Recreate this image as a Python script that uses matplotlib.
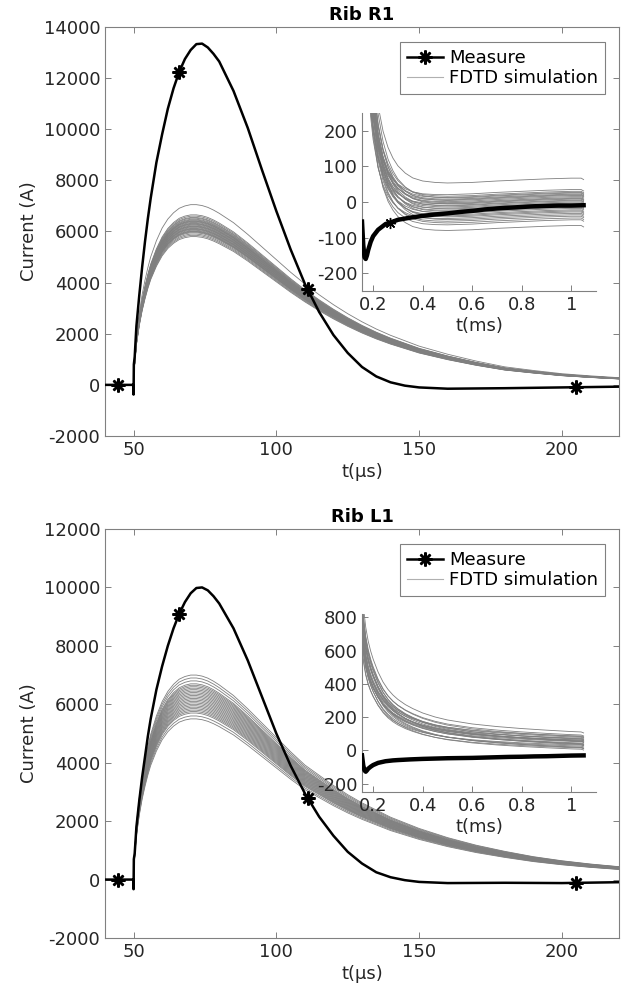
import numpy as np
import matplotlib
matplotlib.use("Agg")
import matplotlib.pyplot as plt
from matplotlib.lines import Line2D

plt.rcParams["font.family"] = ["DejaVu Sans"]
plt.rcParams["font.size"] = 13
plt.rcParams["axes.unicode_minus"] = False

AX_COLOR = "#808080"
TXT_COLOR = "#262626"
SIM_COLOR = "#7f7f7f"
ASTERISK = (8, 2, 0)

# ---- main curves (t in us, current in A) ----
T_MEAS = [40, 49.9, 50.0, 50.1, 50.4, 51, 52, 53, 54, 55, 56, 58, 60, 62, 64, 66, 68,
          70, 72, 74, 76, 78, 80, 85, 90, 95, 100, 105, 110, 115, 120, 125, 130,
          135, 140, 145, 150, 160, 180, 200, 220]
R1_MEAS = [0, 0, -380, 800, 1100, 2300, 3500, 4600, 5600, 6500, 7300, 8700, 9800, 10800,
           11600, 12250, 12750, 13100, 13330, 13350, 13200, 12950, 12650, 11500, 10050,
           8400, 6800, 5300, 3950, 2850, 1950, 1250, 700, 330, 100, -30, -100, -150,
           -130, -100, -70]
L1_MEAS = [0, 0, -330, 700, 900, 1800, 2700, 3500, 4200, 4900, 5500, 6500, 7300, 8000,
           8600, 9100, 9500, 9800, 9980, 10000, 9900, 9700, 9450, 8600, 7500, 6250,
           5000, 3900, 2950, 2150, 1500, 950, 550, 250, 80, -20, -80, -120, -110,
           -120, -90]

MARK_T = [44.5, 66, 111, 205]
R1_MARK = [0, 12250, 3750, -95]
L1_MARK = [0, 9100, 2800, -110]

T_SIM = [40, 49.9, 50.0, 50.3, 51, 52, 53, 54, 55, 56, 58, 60, 62, 64, 66, 68, 70, 72,
         74, 76, 78, 80, 85, 90, 95, 100, 105, 110, 115, 120, 125, 130, 135, 140,
         150, 160, 170, 180, 190, 200, 210, 220]
R1_SHAPE = [0, 0, 0, 0.12, 0.27, 0.40, 0.50, 0.58, 0.65, 0.71, 0.80, 0.87, 0.92, 0.955,
            0.98, 0.993, 1.0, 1.0, 0.995, 0.985, 0.97, 0.952, 0.90, 0.835, 0.765, 0.695,
            0.625, 0.56, 0.50, 0.445, 0.395, 0.35, 0.31, 0.275, 0.215, 0.17, 0.132,
            0.10, 0.08, 0.062, 0.05, 0.04]
L1_SHAPE = [0, 0, 0, 0.12, 0.27, 0.40, 0.50, 0.58, 0.65, 0.71, 0.80, 0.87, 0.92, 0.955,
            0.98, 0.993, 1.0, 1.0, 0.995, 0.985, 0.97, 0.952, 0.90, 0.835, 0.765, 0.695,
            0.625, 0.56, 0.51, 0.46, 0.415, 0.375, 0.34, 0.305, 0.25, 0.205, 0.168,
            0.138, 0.112, 0.092, 0.076, 0.063]
R1_PEAKS = [7050, 6650, 6600, 6550, 6520, 6480, 6450, 6420, 6400, 6380, 6350, 6320,
            6300, 6280, 6250, 6220, 6200, 6180, 6150, 6120, 6100, 6080, 6050, 6020,
            6000, 5980, 5950, 5900, 5850, 5800]
L1_PEAKS = [7000, 6900, 6800, 6700, 6650, 6600, 6550, 6500, 6450, 6400, 6350, 6300,
            6250, 6200, 6150, 6100, 6050, 6000, 5950, 5900, 5850, 5800, 5750, 5700,
            5600, 5500]

# ---- insets (t in ms) ----
T_IN = [0.155, 0.16, 0.165, 0.17, 0.175, 0.18, 0.19, 0.2, 0.22, 0.25, 0.28, 0.3, 0.35,
        0.4, 0.45, 0.5, 0.55, 0.6, 0.65, 0.7, 0.75, 0.8, 0.85, 0.9, 0.95, 1.0, 1.05]
R1_IN_MEAS = [-55, -120, -155, -160, -150, -135, -112, -96, -78, -62, -55, -50, -44,
              -39, -35, -32, -28, -25, -21, -18, -16, -14, -12, -11, -10, -10, -9]
L1_IN_MEAS = [-30, -90, -120, -128, -120, -110, -98, -88, -75, -65, -60, -58, -54, -51,
              -49, -47, -46, -45, -43, -41, -39, -38, -36, -35, -33, -31, -30]
R1_IN_MARK_T = [0.27]
R1_IN_MARK = [-60]

T_IN_SIM = [0.155, 0.16, 0.17, 0.18, 0.19, 0.2, 0.22, 0.24, 0.26, 0.28, 0.3, 0.33, 0.36,
            0.4, 0.45, 0.5, 0.6, 0.7, 0.8, 0.9, 1.0, 1.04, 1.05]
R1_IN_BASE = [1100, 900, 650, 480, 370, 290, 190, 130, 92, 66, 48, 30, 18, 10, 5, 2, 0,
              0, 0, 0, 0, 0, 0]
R1_IN_DRIFT = [-25, -25, -25, -25, -25, -25, -24, -24, -24, -23, -23, -22, -21, -20,
               -18, -16, -12, -8, -5, -2, 0, 0, -4]
R1_IN_OFFSETS = [67, 35, 30, 27, 25, 22, 20, 18, 15, 12, 10, 8, 5, 3, 0, -3, -6, -9,
                 -12, -15, -18, -22, -25, -28, -32, -36, -40, -45, -50, -66]
R1_IN_SCALES = [1.2, 0.8, 1.1, 0.9, 1.3, 1.0, 0.85, 1.15, 0.95, 1.05, 0.75, 1.25, 0.9,
                1.1, 1.0, 0.8, 1.2, 0.95, 1.05, 0.85, 1.15, 0.9, 1.0, 1.1, 0.8, 1.2,
                0.95, 1.05, 0.9, 1.0]
L1_IN_BASE = [780, 690, 580, 510, 460, 420, 355, 305, 268, 240, 218, 192, 172, 150, 130,
              115, 95, 82, 72, 64, 57, 55, 50]
L1_IN_DRIFT = [0] * 23
L1_IN_OFFSETS = [45, 38, 32, 28, 24, 20, 16, 12, 9, 6, 3, 0, -3, -6, -9, -12, -16, -20,
                 -24, -28, -32, -36, -40, -45]
L1_IN_SCALES = [1.2, 0.88, 1.1, 0.82, 1.0, 1.15, 0.85, 1.05, 0.95, 1.12, 0.9, 1.0,
                1.08, 0.92, 1.18, 0.8, 1.0, 1.1, 0.9, 1.15, 0.85, 1.0, 1.05, 0.95]


def style_axes(ax, box=True):
    for name, sp in ax.spines.items():
        sp.set_color(AX_COLOR)
        sp.set_linewidth(0.8)
        if not box and name in ("top", "right"):
            sp.set_visible(False)
    ax.tick_params(direction="in", length=4, width=0.7, color=AX_COLOR,
                   labelcolor=TXT_COLOR, top=box, right=box, labelsize=13)


def draw_panel(fig, rect, inset_rect, title, meas, marks, shape, peaks, ylim, yticks,
               in_meas, in_marks, in_base, in_drift, in_offsets, in_scales, in_ylim,
               in_yticks):
    ax = fig.add_axes(rect)
    shape = np.array(shape)
    for p in peaks:
        ax.plot(T_SIM, p * shape, color=SIM_COLOR, lw=0.6)
    ax.plot(T_MEAS, meas, color="black", lw=1.8, zorder=5)
    ax.plot(MARK_T, marks, ls="none", marker=ASTERISK, ms=10, mew=1.8,
            color="black", zorder=6)
    ax.set_xlim(40, 220)
    ax.set_ylim(*ylim)
    ax.set_xticks([50, 100, 150, 200])
    ax.set_yticks(yticks)
    ax.set_xlabel("t(\u03bcs)", color=TXT_COLOR, labelpad=3)
    ax.set_ylabel("Current (A)", color=TXT_COLOR, labelpad=4)
    ax.set_title(title, fontweight="bold", fontsize=13, pad=5, color="black")
    style_axes(ax, box=True)

    h_meas = Line2D([], [], color="black", lw=1.8, marker=ASTERISK, ms=10, mew=1.8)
    h_sim = Line2D([], [], color="#b0b0b0", lw=0.8)
    leg = ax.legend([h_meas, h_sim], ["Measure", "FDTD simulation"], loc="upper right",
                    bbox_to_anchor=(0.973, 0.964), borderaxespad=0, fancybox=False,
                    framealpha=1, edgecolor=AX_COLOR, handlelength=2.0,
                    handletextpad=0.3, labelspacing=0.12, borderpad=0.4, fontsize=13)
    leg.get_frame().set_linewidth(0.8)

    ins = fig.add_axes(inset_rect)
    base = np.array(in_base)
    drift = np.array(in_drift)
    for off, sc in zip(in_offsets, in_scales):
        ins.plot(T_IN_SIM, off + drift + sc * base, color=SIM_COLOR, lw=0.6)
    ins.plot(T_IN, in_meas, color="black", lw=3.2, zorder=5)
    if in_marks:
        ins.plot(in_marks[0], in_marks[1], ls="none", marker=ASTERISK, ms=8, mew=1.0,
                 color="black", zorder=6)
    ins.set_xlim(0.155, 1.1)
    ins.set_ylim(*in_ylim)
    ins.set_xticks([0.2, 0.4, 0.6, 0.8, 1.0])
    ins.set_xticklabels(["0.2", "0.4", "0.6", "0.8", "1"])
    ins.set_yticks(in_yticks)
    ins.set_xlabel("t(ms)", color=TXT_COLOR, labelpad=2)
    style_axes(ins, box=False)


def main():
    fig = plt.figure(figsize=(6.24, 9.91), dpi=100)
    W, H = 624, 991

    def r(x0, y0, x1, y1):
        return [x0 / W, (H - y1) / H, (x1 - x0) / W, (y1 - y0) / H]

    draw_panel(fig, r(105, 27, 619, 436), r(362, 113, 596, 291), "Rib R1",
               R1_MEAS, R1_MARK, R1_SHAPE, R1_PEAKS, (-2000, 14000),
               range(-2000, 14001, 2000), R1_IN_MEAS, (R1_IN_MARK_T, R1_IN_MARK),
               R1_IN_BASE, R1_IN_DRIFT, R1_IN_OFFSETS, R1_IN_SCALES, (-250, 250),
               [-200, -100, 0, 100, 200])
    draw_panel(fig, r(105, 529, 619, 938), r(362, 614, 596, 792), "Rib L1",
               L1_MEAS, L1_MARK, L1_SHAPE, L1_PEAKS, (-2000, 12000),
               range(-2000, 12001, 2000), L1_IN_MEAS, None, L1_IN_BASE, L1_IN_DRIFT,
               L1_IN_OFFSETS, L1_IN_SCALES, (-250, 820), [-200, 0, 200, 400, 600, 800])
    fig.savefig("out.png", dpi=100)


if __name__ == "__main__":
    main()
